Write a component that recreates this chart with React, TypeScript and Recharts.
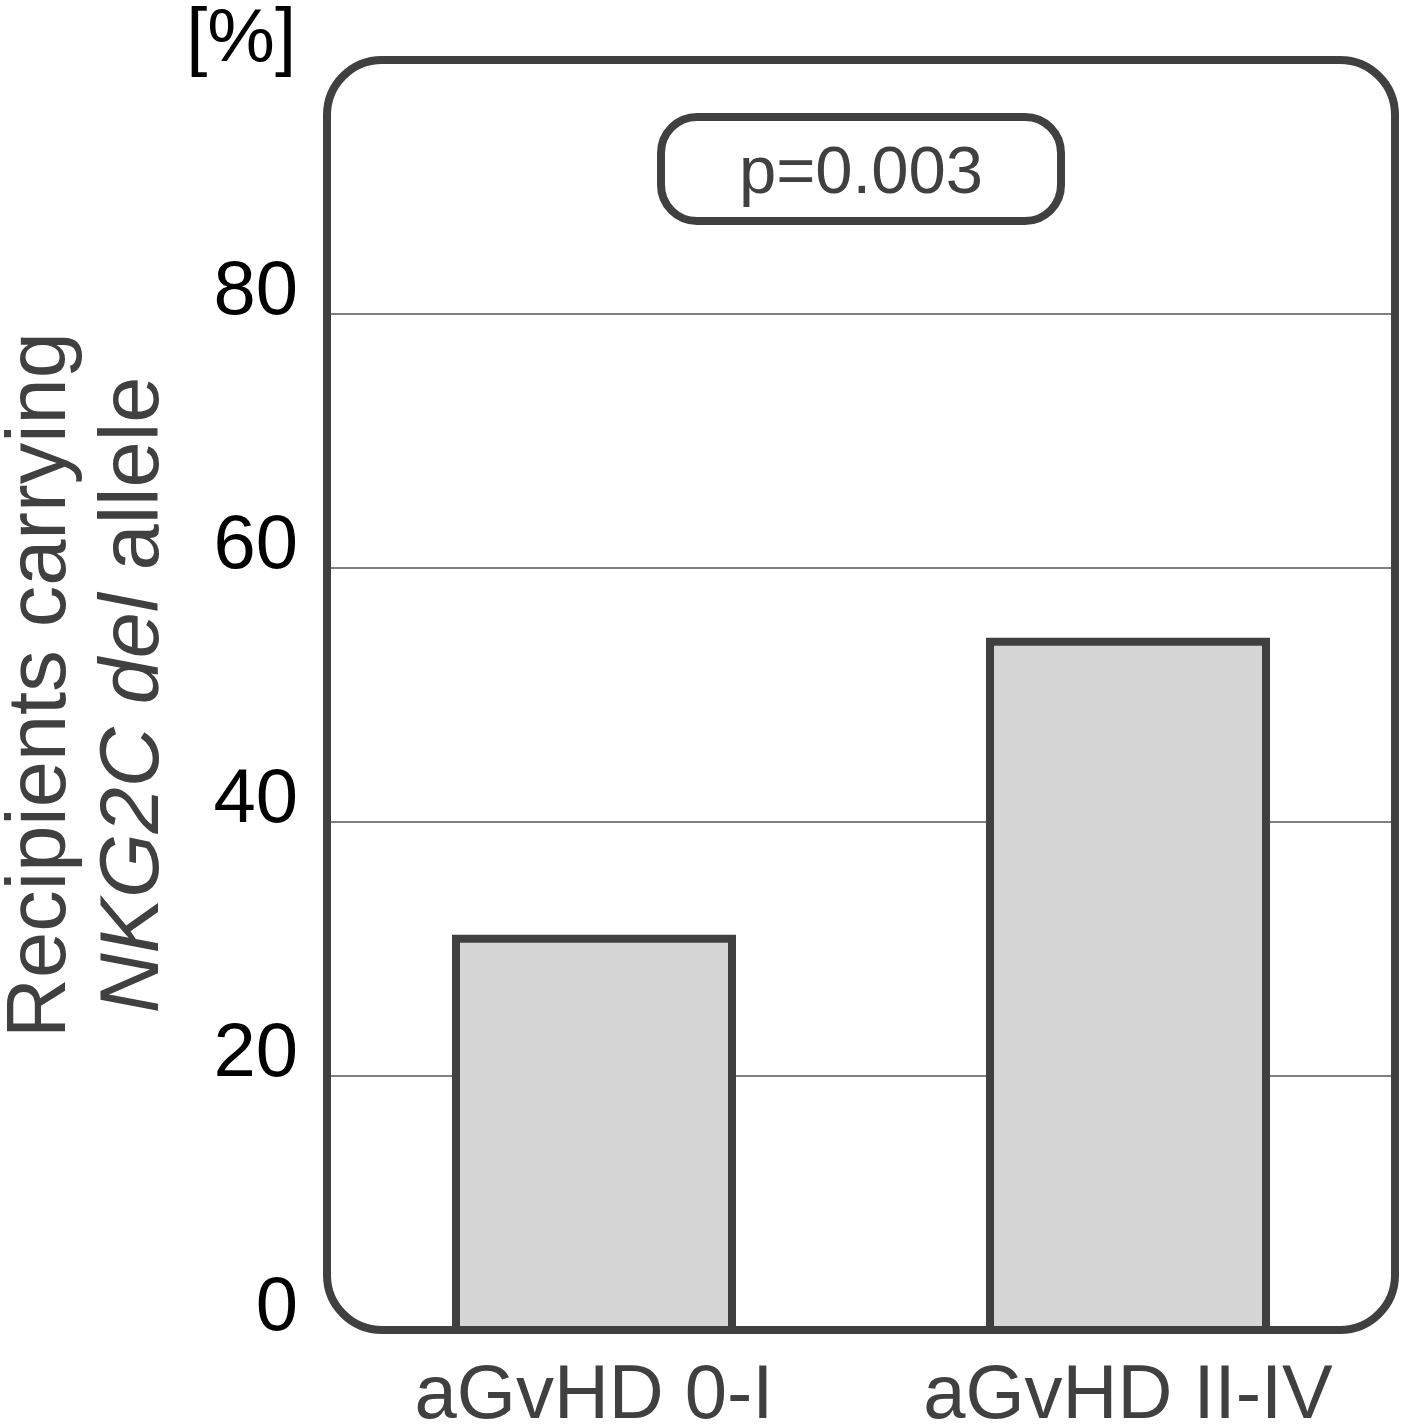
import React from 'react';
import { BarChart, Bar, XAxis, YAxis, CartesianGrid, ReferenceArea } from 'recharts';

const categories = ['aGvHD 0-I', 'aGvHD II-IV'];
const percentValues = [30.8, 54.2];
const yTicks = [0, 20, 40, 60, 80];
const gridValues = [20, 40, 60, 80];
const pValueLabel = 'p=0.003';
const unitLabel = '[%]';
const titleLine1 = 'Recipients carrying';
const titleLine2Italic = 'NKG2C del';
const titleLine2Rest = ' allele';

const data = categories.map((name, i) => ({ name, value: percentValues[i] }));

const FONT = '"Liberation Sans", Arial, Helvetica, sans-serif';
const DARK = '#404040';

const YTick = (props: any) => {
  const { x, y, payload } = props;
  return (
    <text x={x} y={y} textAnchor="end" fontFamily={FONT} fontSize={76} fill="#000">
      {payload.value}
    </text>
  );
};

const XTick = (props: any) => {
  const { x, y, payload } = props;
  return (
    <text x={x} y={y + 88} textAnchor="middle" fontFamily={FONT} fontSize={76} fill={DARK}>
      {payload.value}
    </text>
  );
};

const FrameShape = (p: any) => {
  const { x, y, width, height } = p;
  const cx = x + width / 2;
  const boxW = 400;
  const boxH = 104;
  const boxY = y + 57;
  return (
    <g>
      <rect x={x} y={y} width={width} height={height} rx={55} ry={55} fill="none" stroke={DARK} strokeWidth={8} />
      <rect x={cx - boxW / 2} y={boxY} width={boxW} height={boxH} rx={36} ry={36} fill="#fff" stroke={DARK} strokeWidth={8} />
      <text x={cx} y={boxY + 76} textAnchor="middle" fontFamily={FONT} fontSize={67} fill={DARK}>
        {pValueLabel}
      </text>
      <text x={x - 31} y={y + 1} textAnchor="end" fontFamily={FONT} fontSize={76} fill="#000">
        {unitLabel}
      </text>
    </g>
  );
};

const YTitle = (props: any) => {
  const vb = props.viewBox || { x: 0, y: 60, width: 327, height: 1270 };
  const cy = vb.y + vb.height / 2;
  return (
    <g fontFamily={FONT} fontSize={83} fill={DARK}>
      <text transform={`translate(65, ${cy - 10}) rotate(-90)`} textAnchor="middle">
        {titleLine1}
      </text>
      <text transform={`translate(158, ${cy}) rotate(-90)`} textAnchor="middle">
        <tspan fontStyle="italic">{titleLine2Italic}</tspan>
        <tspan>{titleLine2Rest}</tspan>
      </text>
    </g>
  );
};

export default function App() {
  return (
    <div style={{ position: 'absolute', left: 0, top: 0, width: 1406, height: 1425, background: '#fff' }}>
      <BarChart width={1406} height={1425} data={data} margin={{ top: 60, right: 11, bottom: 0, left: 0 }}>
        <CartesianGrid vertical={false} horizontalValues={gridValues} stroke="#555" strokeWidth={1.5} />
        <ReferenceArea y1={0} y2={100} shape={FrameShape} ifOverflow="visible" />
        <XAxis
          dataKey="name"
          height={95}
          axisLine={false}
          tickLine={false}
          tickSize={0}
          tickMargin={0}
          tick={XTick}
          interval={0}
        />
        <YAxis
          width={327}
          domain={[0, 100]}
          ticks={yTicks}
          axisLine={false}
          tickLine={false}
          tickSize={0}
          tickMargin={29}
          tick={YTick}
          label={{ content: YTitle }}
        />
        <Bar dataKey="value" barSize={276} fill="#d6d6d6" stroke={DARK} strokeWidth={8} isAnimationActive={false} />
      </BarChart>
    </div>
  );
}
